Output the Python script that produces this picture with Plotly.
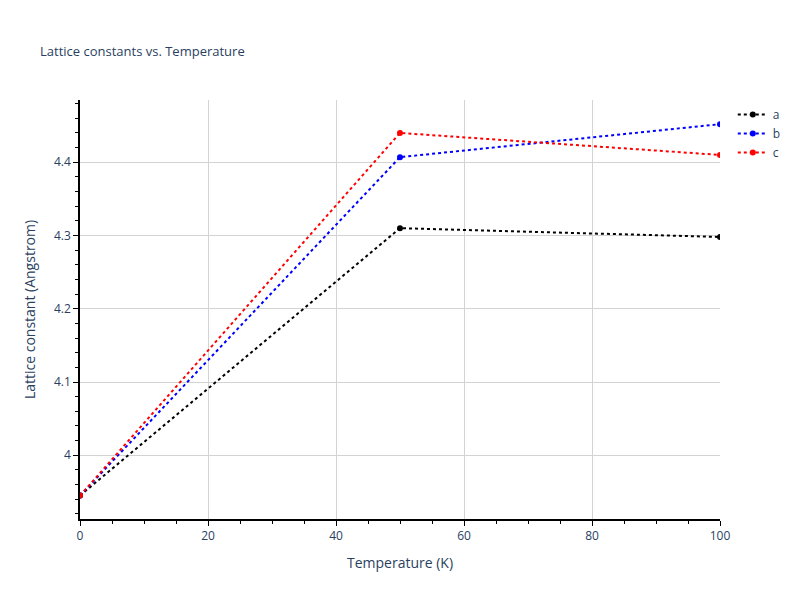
import plotly.graph_objects as go

temps = [0, 50, 100]
a_vals = [3.945, 4.310, 4.298]
b_vals = [3.945, 4.407, 4.452]
c_vals = [3.945, 4.440, 4.410]
names = ["a", "b", "c"]
colors = ["black", "blue", "red"]

fig = go.Figure()
for n, v, col in zip(names, [a_vals, b_vals, c_vals], colors):
    fig.add_trace(go.Scatter(x=temps, y=v, name=n, mode="lines+markers",
                             line=dict(color=col, dash="dot", width=2),
                             marker=dict(color=col, size=6)))

axis_common = dict(showline=True, linecolor="black", linewidth=1.5, ticks="outside",
                   tickcolor="black", showgrid=True, gridcolor="lightgray", zeroline=False,
                   mirror=False)
fig.update_layout(
    width=800, height=600,
    title=dict(text="Lattice constants vs. Temperature", x=0.04, y=0.935, font=dict(size=13)),
    plot_bgcolor="white", paper_bgcolor="white",
    margin=dict(l=72, r=88, t=92, b=89),
    xaxis=dict(title="Temperature (K)", range=[0, 100], dtick=20,
               minor=dict(ticks="outside", dtick=5, tickcolor="black", showgrid=False), **axis_common),
    yaxis=dict(title="Lattice constant (Angstrom)", range=[3.913, 4.485], dtick=0.1,
               minor=dict(ticks="outside", dtick=0.02, tickcolor="black", showgrid=False), **axis_common),
)
fig.write_html("out.html")
